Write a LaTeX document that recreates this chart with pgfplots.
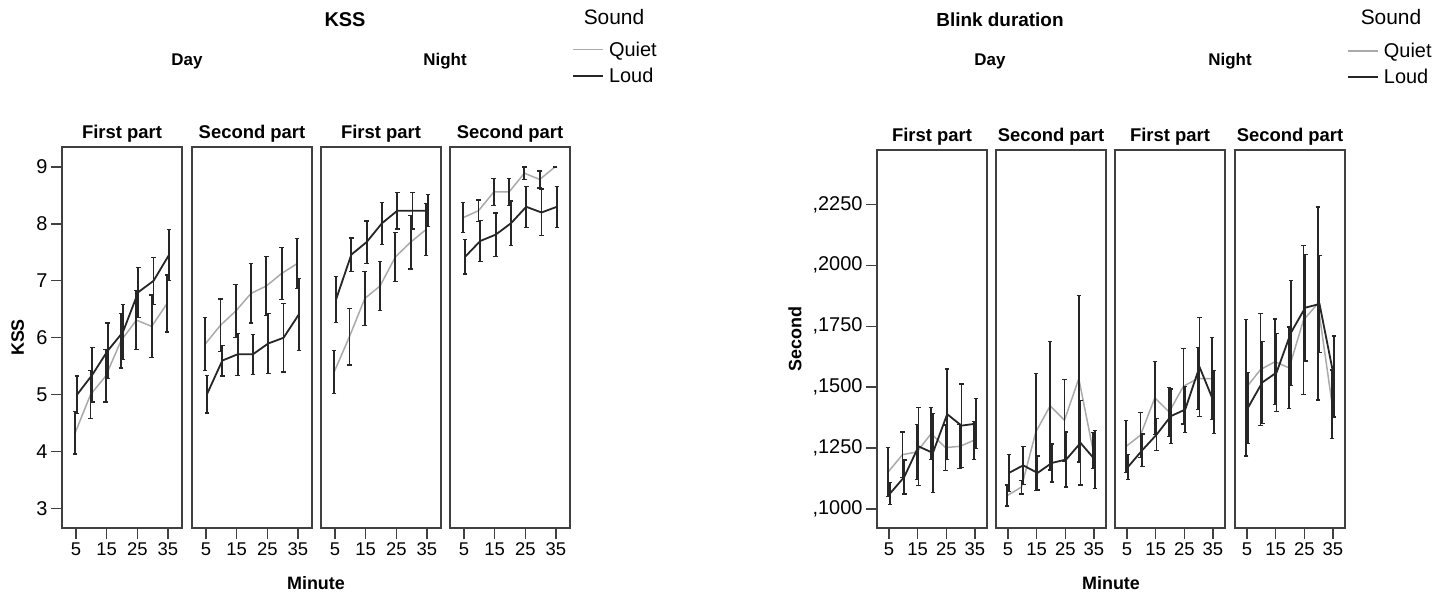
\documentclass[border=0pt]{standalone}
\usepackage{pgfplots}
\pgfplotsset{compat=1.18}
\usepackage{pgfplotstable}
\usepackage{fontspec}
\setmainfont{Liberation Sans}

\definecolor{quiet}{HTML}{AAAAAA}
\definecolor{loud}{HTML}{262626}
\definecolor{frame}{HTML}{404040}

% m = minute, q/qe = Quiet mean/error, l/le = Loud mean/error
\pgfplotstableread{
m q qe l le
5 4.33 0.37 5.00 0.33
10 5.00 0.42 5.35 0.48
15 5.33 0.46 5.77 0.49
20 5.95 0.48 6.10 0.48
25 6.31 0.52 6.80 0.44
30 6.20 0.55 7.00 0.41
35 6.60 0.50 7.45 0.45
}\kA
\pgfplotstableread{
m q qe l le
5 5.89 0.46 5.01 0.33
10 6.22 0.46 5.60 0.27
15 6.47 0.47 5.71 0.37
20 6.78 0.52 5.71 0.35
25 6.91 0.52 5.90 0.53
30 7.13 0.46 6.00 0.60
35 7.30 0.44 6.41 0.63
}\kB
\pgfplotstableread{
m q qe l le
5 5.40 0.38 6.67 0.40
10 6.02 0.50 7.46 0.29
15 6.69 0.48 7.68 0.37
20 6.91 0.43 8.01 0.37
25 7.42 0.43 8.23 0.32
30 7.68 0.47 8.23 0.32
35 7.90 0.46 8.23 0.28
}\kC
\pgfplotstableread{
m q qe l le
5 8.11 0.26 7.42 0.30
10 8.23 0.19 7.70 0.36
15 8.56 0.24 7.81 0.38
20 8.56 0.24 8.01 0.39
25 8.89 0.11 8.30 0.36
30 8.78 0.15 8.20 0.41
35 9.00 0.01 8.30 0.36
}\kD
\pgfplotstableread{
m q qe l le
5 1152 100 1063 45
10 1223 93 1131 70
15 1234 113 1257 160
20 1309 107 1230 162
25 1252 93 1389 186
30 1257 90 1342 171
35 1282 78 1350 103
}\bA
\pgfplotstableread{
m q qe l le
5 1055 43 1148 75
10 1090 28 1179 78
15 1316 240 1148 70
20 1423 263 1189 78
25 1364 167 1203 113
30 1535 342 1271 173
35 1240 75 1203 120
}\bB
\pgfplotstableread{
m q qe l le
5 1257 107 1172 51
10 1303 93 1241 67
15 1456 150 1305 65
20 1398 100 1381 111
25 1504 155 1408 95
30 1535 127 1583 204
35 1535 168 1439 129
}\bC
\pgfplotstableread{
m q qe l le
5 1498 280 1415 145
10 1572 230 1519 167
15 1604 176 1560 160
20 1579 168 1723 215
25 1775 306 1826 219
30 1843 396 1841 200
35 1430 140 1544 166
}\bD

\pgfplotsset{
  panel/.style={
    scale only axis, anchor=south west,
    axis line style={frame, line width=1.3bp},
    xtick={5,15,25,35}, xticklabels={5,15,25,35},
    xtick pos=bottom, ytick pos=left,
    tick align=outside, major tick length=11bp,
    every tick/.style={frame, line width=1.3bp},
    ytick=\empty,
    xticklabel style={font=\fontsize{18.5}{20}\selectfont, text=black},
    yticklabel style={font=\fontsize{20}{22}\selectfont, text=black},
    title style={font=\bfseries\fontsize{18.5}{20}\selectfont, yshift=-5bp},
    ylabel style={font=\bfseries\fontsize{18}{20}\selectfont},
  },
  kss/.style={panel, width=120bp, height=381bp, xmin=0.4, xmax=39.6, ymin=2.66, ymax=9.35},
  blink/.style={panel, width=110bp, height=378bp, xmin=0.8, xmax=39.2, ymin=922, ymax=2473},
  errs/.style={color=loud, only marks, mark=text, text mark={}, forget plot,
    error bars/.cd, y dir=both, y explicit,
    error bar style={color=loud, line width=1.8bp},
    error mark options={color=loud, mark size=2.3bp, line width=1.3bp, rotate=90}},
  qline/.style={color=quiet, line width=1.5bp, no markers, forget plot},
  lline/.style={color=loud, line width=1.8bp, no markers, forget plot},
  leg/.style={legend style={draw=none, fill=none, inner sep=0pt,
      font=\fontsize{20}{22}\selectfont, row sep=6bp, column sep=3bp,
      cells={anchor=west}},
    legend image code/.code={\draw[##1] (0bp,0bp) -- (30bp,0bp);}},
}

\newcommand{\panelplots}[1]{%
  \addplot[qline] table[x expr=\thisrow{m}-0.3, y=q]{#1};
  \addplot[lline] table[x expr=\thisrow{m}+0.3, y=l]{#1};
  \addplot[errs] table[x expr=\thisrow{m}-0.3, y=q, y error=qe]{#1};
  \addplot[errs] table[x expr=\thisrow{m}+0.3, y=l, y error=le]{#1};
}

\begin{document}
\begin{tikzpicture}
\path[use as bounding box] (0,0) rectangle (1445bp,594bp);

% ---------------- KSS ----------------
\begin{axis}[kss, at={(62bp,66bp)}, title={First part},
  ytick={3,4,5,6,7,8,9}, yticklabels={3,4,5,6,7,8,9},
  ylabel={KSS}, ylabel style={at={(axis description cs:-0.37,0.5)}, anchor=center}]
\panelplots{\kA}
\end{axis}
\begin{axis}[kss, at={(192bp,66bp)}, title={Second part}]
\panelplots{\kB}
\end{axis}
\begin{axis}[kss, at={(321bp,66bp)}, title={First part}]
\panelplots{\kC}
\end{axis}
\begin{axis}[kss, at={(450bp,66bp)}, title={Second part}, leg,
  legend style={at={(1.017,1.282)}, anchor=north west}]
\panelplots{\kD}
\addlegendimage{quiet, line width=1.5bp}\addlegendentry{Quiet}
\addlegendimage{loud, line width=1.8bp}\addlegendentry{Loud}
\end{axis}

\node[font=\bfseries\fontsize{20}{22}\selectfont] at (345bp,574bp) {KSS};
\node[font=\bfseries\fontsize{17}{19}\selectfont] at (187bp,533bp) {Day};
\node[font=\bfseries\fontsize{17}{19}\selectfont] at (445bp,533bp) {Night};
\node[font=\fontsize{21}{23}\selectfont] at (614bp,577bp) {Sound};
\node[font=\bfseries\fontsize{18}{20}\selectfont] at (316bp,11bp) {Minute};

% ---------------- Blink duration ----------------
\begin{axis}[blink, at={(877bp,66bp)}, title={First part},
  ytick={1000,1250,1500,1750,2000,2250},
  yticklabels={{,1000},{,1250},{,1500},{,1750},{,2000},{,2250}},
  ylabel={Second}, ylabel style={at={(axis description cs:-0.745,0.5)}, anchor=center}]
\panelplots{\bA}
\end{axis}
\begin{axis}[blink, at={(996bp,66bp)}, title={Second part}]
\panelplots{\bB}
\end{axis}
\begin{axis}[blink, at={(1115bp,66bp)}, title={First part}]
\panelplots{\bC}
\end{axis}
\begin{axis}[blink, at={(1235bp,66bp)}, title={Second part}, leg,
  legend style={at={(1.018,1.289)}, anchor=north west}]
\panelplots{\bD}
\addlegendimage{quiet, line width=1.5bp}\addlegendentry{Quiet}
\addlegendimage{loud, line width=1.8bp}\addlegendentry{Loud}
\end{axis}

\node[font=\bfseries\fontsize{19}{21}\selectfont] at (1000bp,574bp) {Blink duration};
\node[font=\bfseries\fontsize{17}{19}\selectfont] at (990bp,533bp) {Day};
\node[font=\bfseries\fontsize{17}{19}\selectfont] at (1230bp,533bp) {Night};
\node[font=\fontsize{21}{23}\selectfont] at (1391bp,577bp) {Sound};
\node[font=\bfseries\fontsize{18}{20}\selectfont] at (1111bp,11bp) {Minute};
\end{tikzpicture}
\end{document}
